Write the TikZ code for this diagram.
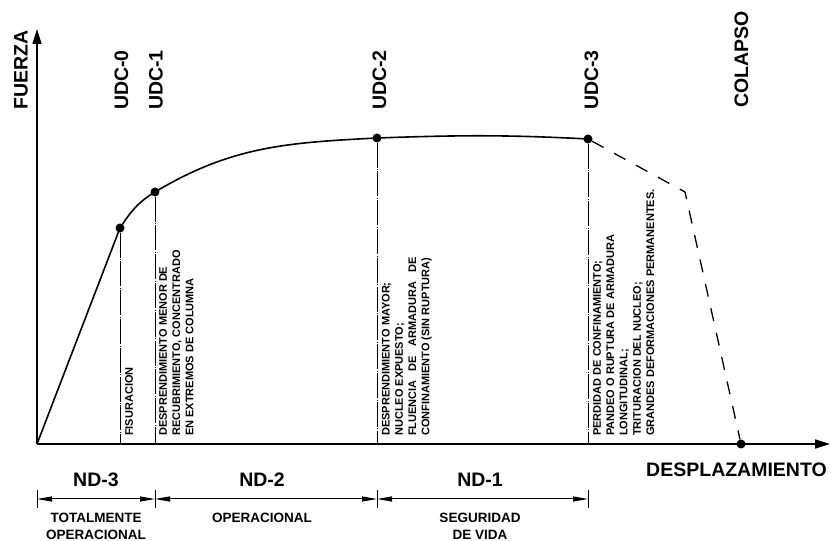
\documentclass[tikz,border=0pt]{standalone}
\usepackage{fontspec}
\setmainfont{Liberation Sans}
\usetikzlibrary{positioning,arrows.meta}

\begin{document}
\begin{tikzpicture}[x=1pt, y=1pt,
        axis/.style = {line width=1.6pt, -{Triangle[length=15pt, width=9pt]}},
        guide/.style = {line width=0.9pt, dash pattern=on 25pt off 1.5pt on 0.8pt off 1.5pt},
        dim/.style = {line width=1pt, {Triangle[length=15pt, width=5pt]}-{Triangle[length=15pt, width=5pt]}},
    ]
    \tikzstyle{udc} = [circle, fill=black, inner sep=0pt, minimum size=9pt];
    \tikzstyle{biglabel} = [inner sep=0pt, font=\fontsize{19.5}{22}\selectfont\bfseries];
    \tikzstyle{udclabel} = [biglabel, rotate=90, anchor=west];
    \tikzstyle{note} = [rotate=90, anchor=north west, inner sep=0pt, align=left, font=\fontsize{11}{13.3}\selectfont\bfseries];
    \tikzstyle{state} = [inner sep=0pt, align=center, font=\fontsize{13.5}{17}\selectfont\bfseries];
    \useasboundingbox (0,0) rectangle (831,541);
    \coordinate (o) at (37,97);
    \coordinate (ytop) at (37,512);
    \coordinate (xend) at (830,97);
    \coordinate (kink) at (685,349);
    \node [udc] (p0) at (120,313) {};
    \node [udc] (p1) at (155,349) {};
    \node [udc] (p2) at (377,403) {};
    \node [udc] (p3) at (588,402) {};
    \node [udc] (p4) at (741,97) {};
    % axes
    \draw [axis] (o) -- (ytop);
    \draw [axis] (o) -- (xend);
    \node [udclabel] (fuerza) at (21,431) {FUERZA};
    \node [biglabel, below left = 19pt and 3pt of xend, anchor=north east] (despl) {DESPLAZAMIENTO};
    % capacity curve
    \draw [line width=1.6pt] (o) -- (p0.center) to [out=57, in=211] (p1.center)
        to [out=31, in=183] (p2.center) to [out=2, in=177] (p3.center);
    \draw [line width=1.3pt, dash pattern=on 13pt off 12pt] (p3) -- (kink) -- (p4);
    % damage control levels
    \foreach \p in {p0, p1, p2, p3}
        \draw [guide] (\p) -- (\p |- o);
    \node [udclabel] (udc0) at (121.5,431) {UDC-0};
    \node [udclabel] (udc1) at (156,431) {UDC-1};
    \node [udclabel] (udc2) at (379.5,431) {UDC-2};
    \node [udclabel] (udc3) at (591.5,431) {UDC-3};
    \node [udclabel] (colapso) at (741.5,433) {COLAPSO};
    \node [note] (n0) at (125,105) {FISURACION};
    \node [note] (n1) at (159,105) {DESPRENDIMIENTO MENOR DE\\RECUBRIMIENTO, CONCENTRADO\\EN EXTREMOS DE COLUMNA};
    \node [note] (n2) at (380,105) {\begin{tabular}{@{}l@{}}DESPRENDIMIENTO MAYOR;\\NUCLEO EXPUESTO;\\FLUENCIA\hfill DE\hfill ARMADURA\hfill DE\\CONFINAMIENTO (SIN RUPTURA)\end{tabular}};
    \node [note] (n3) at (593,105) {PERDIDAD DE CONFINAMIENTO;\\PANDEO O RUPTURA DE ARMADURA\\LONGITUDINAL;\\TRITURACION DEL NUCLEO;\\GRANDES DEFORMACIONES PERMANENTES.};
    % performance levels
    \coordinate (d0) at (37,42);
    \coordinate (d1) at (155,42);
    \coordinate (d2) at (377,42);
    \coordinate (d3) at (588,42);
    \foreach \d in {d0, d1, d2, d3}
        \draw [line width=1pt] ([yshift=9pt]\d) -- ([yshift=-9pt]\d);
    \draw [dim] (d0) -- (d1);
    \draw [dim] (d1) -- (d2);
    \draw [dim] (d2) -- (d3);
    \node [biglabel] (nd3) at (96,61) {ND-3};
    \node [biglabel] (nd2) at (262,61) {ND-2};
    \node [biglabel] (nd1) at (480,61) {ND-1};
    \node [state] (s3) at (96,15) {TOTALMENTE\\OPERACIONAL};
    \node [state] (s2) at (262,23) {OPERACIONAL};
    \node [state] (s1) at (480,15) {SEGURIDAD\\DE VIDA};
\end{tikzpicture}
\end{document}
